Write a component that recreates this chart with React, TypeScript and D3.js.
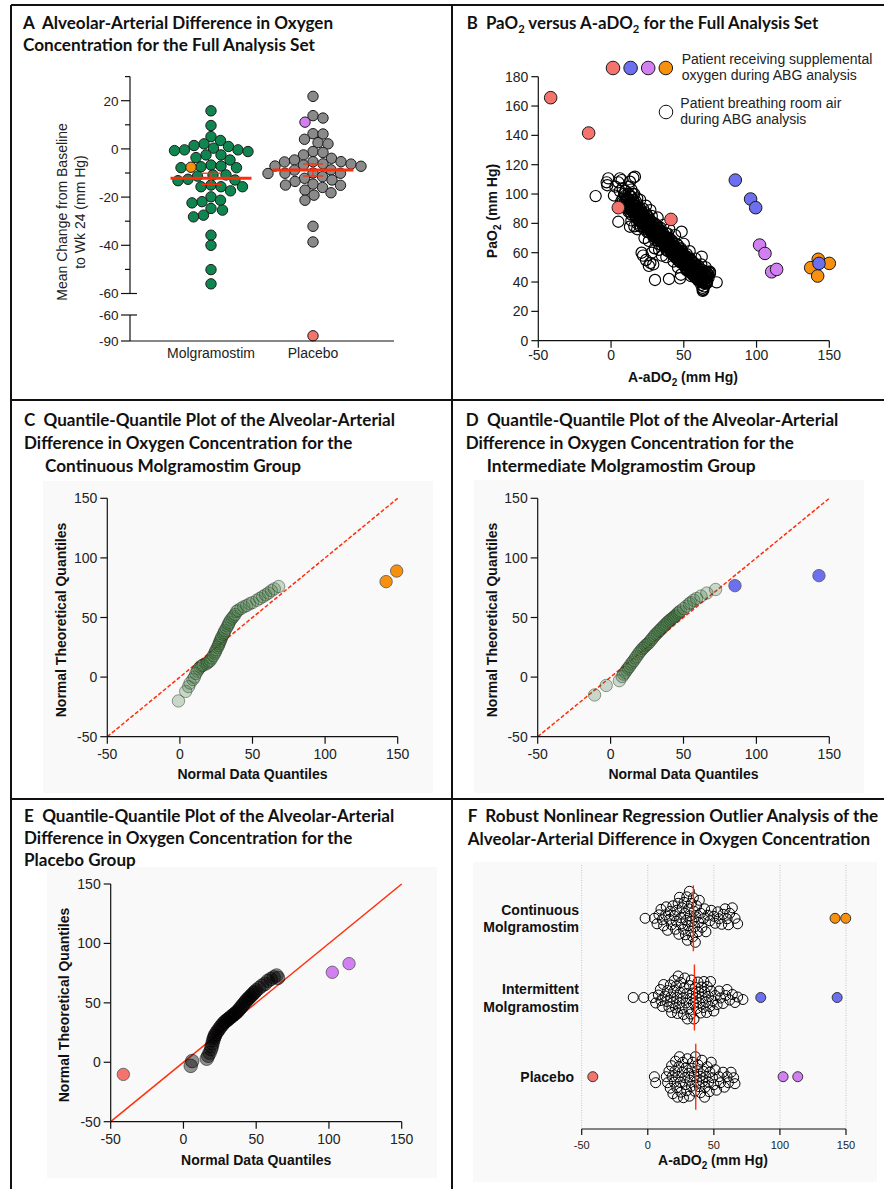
import React from "react";
import * as d3 from "d3";

// ---------------- DATA ----------------
// Panel A: mean change from baseline to week 24 (mm Hg)
const A_categories = ["Molgramostim", "Placebo"];
const A_molgramostim = [15.8, 9.7, 5.1, 3.5, 2.1, 1.4, 1.0, 0.3, -0.4, -0.4, -0.7, -1.1, -2.5, -2.5, -3.6, -4.6, -6.7, -7.1, -7.4, -7.8, -7.8, -10.8, -10.8, -11.3, -12.6, -12.9, -13.2, -15.0, -15.7, -15.7, -15.7, -17.4, -19.9, -21.3, -21.9, -22.4, -24.7, -25.4, -27.5, -28.2, -35.8, -40.0, -50.1, -56.0];
const A_molgramostimSupp = [-7.6];
const A_placebo = [21.8, 13.8, 12.8, 6.3, 6.2, 4.0, 2.6, 2.1, -1.1, -1.5, -2.5, -3.9, -4.6, -5.3, -5.3, -5.4, -6.2, -6.3, -6.7, -7.1, -7.2, -8.7, -8.8, -10.0, -10.1, -10.1, -10.2, -11.5, -12.2, -12.9, -13.5, -14.6, -15.0, -15.1, -16.0, -17.1, -18.2, -19.2, -21.3, -32.1, -38.6];
const A_placeboSuppViolet = [11.1];
const A_placeboSuppRed = [-84];
const A_means = [-12.2, -8.75];
const A_errLow = [-14.7, -11.25];
const A_errHigh = [-10.1, -6.25];
const A_upperTicks = [20, 0, -20, -40, -60];
const A_minorTicks = [30, 10, -10, -30, -50];
const A_lowerTicks = [-60, -90];

// Panel B: [A-aDO2, PaO2], patients on room air
const B_roomAir: [number, number][] = [
  [-10.6, 98.6], [-1.9, 110.7], [-2.6, 106], [-3, 108], [6.1, 110.7], [7.3, 109.5], [13, 108.4], [15.3, 111.1], [16.4, 111.8], [5, 81.1], [13, 77.7],
  [3, 105], [5, 108], [6, 102], [2, 99], [7, 95], [8, 104], [10, 102], [12, 105], [14, 103], [9, 100], [13, 99], [11, 97], [16, 100], [18, 97], [12, 100], [15, 100], [20, 96], [24, 92], [27, 89],
  [8, 97], [9, 94], [10, 99], [11, 92], [12, 96], [10, 95], [13, 90], [14, 98], [12, 88], [15, 93],
  [16, 89], [17, 95], [18, 86], [19, 91], [20, 84], [16, 92], [18, 90], [20, 88], [17, 84], [19, 82], [21, 86], [22, 90], [21, 80], [14, 86], [16, 78], [14, 82], [18, 76],
  [23, 83], [24, 87], [25, 79], [26, 84], [27, 77], [28, 81], [22, 78], [24, 82], [26, 76], [28, 85], [25, 74], [27, 80], [23, 76], [29, 78], [26, 80], [24, 79], [20, 78], [18, 80],
  [30, 75], [31, 79], [32, 72], [33, 76], [34, 70], [35, 74], [30, 71], [32, 78], [33, 69], [34, 77], [35, 68], [31, 73], [29, 73], [32, 75], [30, 80], [34, 73], [36, 71], [33, 72], [32, 84], [36, 79],
  [37, 68], [38, 73], [39, 66], [40, 70], [41, 64], [42, 68], [36, 66], [38, 64], [40, 67], [42, 63], [37, 71], [39, 70], [41, 69], [38, 68], [40, 62], [39, 73], [43, 65], [40, 76], [44, 72],
  [44, 61], [45, 66], [46, 59], [47, 63], [48, 57], [49, 61], [50, 56], [44, 64], [46, 62], [48, 60], [45, 58], [47, 56], [43, 60], [49, 58], [50, 53], [46, 65], [48, 63], [50, 66],
  [51, 55], [52, 59], [53, 52], [54, 56], [55, 50], [56, 54], [57, 48], [58, 52], [52, 54], [54, 51], [56, 49], [53, 57], [55, 55], [57, 53], [51, 58], [58, 47], [54, 61], [58, 56],
  [59, 50], [60, 46], [61, 49], [62, 45], [63, 48], [64, 44], [65, 47], [66, 43], [60, 51], [62, 42], [64, 40], [63, 36], [62, 38], [61, 44], [59, 45], [62, 52], [65, 50], [68, 46], [66, 40],
  [63, 35], [64, 37], [65, 42], [66, 44], [67, 47], [64, 46], [63, 34],
  [21, 60], [22, 58], [24, 55], [27, 53], [26, 51], [29, 52], [23, 70], [26, 68], [30, 63], [28, 60], [33, 62], [35, 58], [38, 57], [43, 54], [46, 50], [52, 48], [48, 45], [55, 44], [58, 43], [60, 41],
  [30.2, 41.4], [39.8, 42.1], [47.4, 42.5], [48.5, 74.3], [62.3, 57.3], [72.6, 39.8], [63.4, 34.6], [65.7, 39.1], [68, 47],
];
const B_roomAirCore: [number, number][] = [
  [10, 93], [10, 96], [10, 91], [11, 95], [11, 90], [12, 93], [12, 91], [13, 94], [13, 88], [13, 92], [14, 91], [14, 89], [14, 95], [15, 88], [15, 90], [15, 96],
  [16, 86], [16, 94], [17, 89], [17, 87], [17, 92], [18, 88], [18, 84], [18, 93], [19, 86], [19, 88], [19, 84], [20, 86], [20, 82], [20, 90], [21, 83], [21, 88], [21, 85],
  [22, 84], [22, 82], [22, 87], [22, 80], [23, 85], [23, 80], [23, 79], [24, 84], [24, 80], [24, 77], [25, 82], [25, 77], [25, 81], [25, 85], [26, 78], [26, 82], [26, 74],
  [27, 79], [27, 75], [27, 82], [28, 78], [28, 75], [28, 73], [29, 76], [29, 80], [29, 71], [30, 77], [30, 73], [30, 69], [31, 76], [31, 71], [31, 75], [32, 74], [32, 70], [32, 68],
  [33, 74], [33, 71], [33, 66], [34, 72], [34, 68], [34, 75], [35, 72], [35, 70], [35, 65], [36, 69], [36, 73], [36, 67], [37, 70], [37, 66], [37, 64], [38, 66], [38, 70], [38, 62],
  [39, 68], [39, 64], [39, 61], [40, 65], [40, 63], [40, 68], [41, 66], [41, 61], [41, 63], [42, 65], [42, 61], [42, 59], [43, 63], [43, 62], [43, 58], [44, 62], [44, 59], [44, 57],
  [45, 60], [45, 63], [45, 56], [46, 57], [46, 61], [46, 55], [47, 59], [47, 61], [47, 54], [48, 58], [48, 55], [48, 53], [49, 56], [49, 54], [49, 59], [50, 58], [50, 55], [50, 52],
  [51, 53], [51, 56], [51, 50], [52, 56], [52, 51], [52, 49], [53, 54], [53, 50], [53, 48], [54, 53], [54, 49], [54, 47], [55, 52], [55, 48], [55, 46], [56, 51], [56, 47], [56, 45],
  [57, 50], [57, 46], [57, 44], [58, 49], [58, 45], [58, 51], [59, 48], [59, 47], [59, 43], [60, 48], [60, 44], [60, 42], [61, 46], [61, 42], [61, 47], [62, 47], [62, 44], [62, 40],
  [63, 45], [63, 41], [63, 43], [64, 42], [64, 39], [65, 44], [65, 39], [65, 45], [66, 41], [66, 46], [67, 43], [67, 45],
];
const B_suppRed: [number, number][] = [[-41.5, 165.7], [-15.4, 141.6], [5.0, 90.7], [41.2, 82.7]];
const B_suppViolet: [number, number][] = [[102.1, 65.2], [105.8, 59.5], [110.4, 47.0], [113.8, 48.6]];
const B_suppOrange: [number, number][] = [[142.4, 55.5], [137.2, 49.8], [150, 52.7], [142, 44.1]];
const B_suppBlue: [number, number][] = [[85.4, 109.5], [95.9, 96.6], [99.4, 90.7], [142.9, 52.7]];
const B_xTicks = [-50, 0, 50, 100, 150];
const B_yTicks = [0, 20, 40, 60, 80, 100, 120, 140, 160, 180];

// Panel C: continuous molgramostim (data quantile, theoretical quantile)
const C_data = [-1, 4, 6, 7, 9, 10, 11, 12, 13, 14, 15, 16, 18, 19, 20, 21, 22, 23, 24, 24.5, 25, 26, 26.5, 27, 27.5, 28, 28.5, 29, 30, 30.5, 31, 32, 33, 33.5, 34, 35, 36, 37, 38, 39, 40, 42, 44, 46, 48, 50, 53, 55, 57, 59, 61, 63, 65, 68];
const C_theo = [-20, -12, -8, -5, -2, 0, 3, 5, 7, 8.5, 9.5, 10, 11, 12, 13, 14, 16, 18, 20, 21.5, 23, 25, 26.5, 28, 29.5, 31, 32.5, 34, 36, 37.5, 39, 41, 43, 44.5, 46, 48, 49.5, 51, 52.5, 55, 56, 57.5, 59, 60, 61.5, 62.5, 64.5, 66, 67.5, 69, 70.5, 72.5, 74, 76];
const C_outliers: [number, number][] = [[142, 80.1], [149.3, 89]];

// Panel D: intermittent molgramostim
const D_data = [-11, -3, 6, 8, 9, 10, 11, 12, 13, 14, 15, 16, 17, 18, 19, 20, 21, 22, 23, 24, 25, 26, 27, 28, 29, 30, 31, 32, 33, 34, 35, 36, 37, 38, 39, 40, 41, 42, 43, 44, 45, 46, 47, 48, 50, 52, 54, 55, 57, 59, 62, 66, 72];
const D_theo = [-15, -7, -3, 0.5, 2.5, 4, 6, 7.5, 9, 11, 12.5, 14, 16, 17.5, 19.5, 21, 22.5, 24, 25, 26.5, 27.5, 28.5, 30, 31.5, 33, 34.5, 36, 37, 38.5, 39.5, 41, 42, 43.5, 44.5, 46, 47, 48, 49, 50, 51, 52, 53.5, 54.5, 55.5, 57.5, 59.5, 61.5, 62.5, 64.5, 66, 68, 70.5, 73.5];
const D_outliers: [number, number][] = [[85.3, 76.7], [142.9, 85.1]];

// Panel E: placebo
const E_data = [5, 6, 16, 17, 18, 19, 19.5, 20, 20.5, 21, 21.5, 22, 23, 24, 25, 26, 27, 28, 29, 30, 31, 32, 33, 34, 35, 36, 37, 38, 39, 40, 41, 42, 43, 44, 45, 46, 47, 48, 49, 50, 52, 54, 56, 58, 60, 62, 64, 65];
const E_theo = [-3, 1, 3, 5.5, 8, 11, 13.5, 16, 18.5, 20.5, 22, 23.5, 25.5, 27, 29, 30.5, 32, 33.5, 34.5, 35.5, 36.5, 37.5, 38.5, 39.5, 40.5, 41.5, 42.5, 44, 45.5, 47, 48.5, 50, 51.5, 53, 54, 55.5, 56.5, 58, 59, 60.5, 62.5, 64.5, 66, 68.5, 70, 71.5, 73, 71];
const E_outliersRed: [number, number][] = [[-41.3, -10.2]];
const E_outliersViolet: [number, number][] = [[102.3, 75.7], [113.8, 83]];
const QQ_ticks = [-50, 0, 50, 100, 150];

// Panel F: A-aDO2 by group
const F_groups = ["Continuous Molgramostim", "Intermittent Molgramostim", "Placebo"];
const F_continuous = [-2, 5, 7, 8.5, 10, 11, 12, 13.5, 14, 15, 16.5, 17, 18, 19, 20, 21, 21.5, 22, 23, 23.5, 24, 25, 25.5, 26, 27, 27.5, 28, 28.5, 29, 29.5, 30, 30.5, 31, 31.5, 32, 32.5, 33, 33.5, 34, 34.5, 35, 35.5, 36, 36.5, 37, 38, 38.5, 39, 40, 41, 42, 43, 44, 45.5, 47, 48, 50, 51, 53, 54, 56, 57, 58.5, 60, 61, 62, 64, 66, 68];
const F_continuousOrange = [141.7, 149.8];
const F_intermittent = [-11, -3, 4, 6, 8, 9.5, 10, 11, 12, 13, 14.5, 15, 16, 17, 17.5, 18, 19, 19.5, 20, 21, 21.5, 22, 22.5, 23, 24, 24.5, 25, 26, 26.5, 27, 27.5, 28, 29, 29.5, 30, 31, 31.5, 32, 32.5, 33, 34, 34.5, 35, 36, 36.5, 37, 38, 38.5, 39, 40, 40.5, 41, 42, 42.5, 43, 44, 44.5, 45, 46, 47, 47.5, 48, 49, 50, 51, 52.5, 54, 55, 57, 59, 60, 62, 64, 66, 68, 72];
const F_intermittentBlue = [85.5, 143.3];
const F_placebo = [5, 6, 14, 15, 16, 17, 18, 18.5, 19, 20, 20.5, 21, 22, 22.5, 23, 23.5, 24, 24.5, 25, 26, 26.5, 27, 28, 28.5, 29, 29.5, 30, 31, 31.5, 32, 33, 33.5, 34, 35, 35.5, 36, 37, 37.5, 38, 39, 39.5, 40, 41, 41.5, 42, 43, 43.5, 44, 45, 46, 46.5, 47, 48, 49, 50, 51, 52, 54, 55, 57, 58, 60, 61, 63, 65, 66];
const F_placeboRed = [-41.6];
const F_placeboViolet = [102.4, 113.5];
const F_medians = [34.5, 35.3, 36.3];
const F_ticks = [-50, 0, 50, 100, 150];

// ---------------- STYLE ----------------
const FONT = "'Liberation Sans', Arial, sans-serif";
const TFONT = "Lato, 'Open Sans', sans-serif";
const GREEN = "#0f8550";
const GREY = "#8a8a8a";
const ORANGE = "#f7900c";
const VIOLET = "#d27ff2";
const SALMON = "#f5736d";
const BLUE = "#6b6ff0";
const RED = "#ff2e0a";
const BG = "#f9f9f9";

type Item = { v: number; c: string };
type Placed = Item & { p: number; o: number };

function swarm(items: Item[], pos: (v: number) => number, D: number, step = 0.5): Placed[] {
  const sorted = items.map((d) => ({ ...d, p: pos(d.v), o: 0 })).sort((a, b) => a.p - b.p);
  const placed: Placed[] = [];
  for (const d of sorted) {
    let off = 0;
    for (let k = 0; k < 2000; k++) {
      const cand = k === 0 ? 0 : (k % 2 === 1 ? 1 : -1) * Math.ceil(k / 2) * step;
      let ok = true;
      for (const q of placed) {
        const dp = q.p - d.p;
        if (Math.abs(dp) >= D) continue;
        const dd = q.o - cand;
        if (dp * dp + dd * dd < D * D - 1e-6) { ok = false; break; }
      }
      if (ok) { off = cand; break; }
    }
    placed.push({ ...d, o: off });
  }
  return placed;
}

function TitleLine({ x, y, w, children }: { x: number; y: number; w: number; children: React.ReactNode }) {
  return (
    <text x={x} y={y} textLength={w} lengthAdjust="spacingAndGlyphs" fontFamily={TFONT} fontWeight={700} fontSize={16.5} fill="#111" style={{ whiteSpace: "pre" }}>
      {children}
    </text>
  );
}

function PanelA() {
  const x = d3.scalePoint<string>().domain(A_categories).range([130, 394]).padding(0.794);
  const yU = d3.scaleLinear().domain([-60, 30]).range([293.5, 76.6]);
  const yL = d3.scaleLinear().domain([-90, -60]).range([341, 315]);
  const r = 5.2;
  const groups = [
    { cat: A_categories[0], items: [...A_molgramostim.map((v) => ({ v, c: GREEN })), ...A_molgramostimSupp.map((v) => ({ v, c: ORANGE }))] },
    { cat: A_categories[1], items: [...A_placebo.map((v) => ({ v, c: GREY })), ...A_placeboSuppViolet.map((v) => ({ v, c: VIOLET }))] },
  ];
  const ax = 130;
  return (
    <g>
      <TitleLine x={23} y={29.3} w={310}>{"A\u00a0 Alveolar-Arterial Difference in Oxygen"}</TitleLine>
      <TitleLine x={23} y={51} w={292}>Concentration for the Full Analysis Set</TitleLine>
      {groups.map((g) => {
        const placed = swarm(g.items, (v) => yU(v), 10);
        const ordered = [...placed].sort((a, b) => (a.c === GREEN || a.c === GREY ? 0 : 1) - (b.c === GREEN || b.c === GREY ? 0 : 1));
        return (
          <g key={g.cat}>
            {ordered.map((d, i) => (
              <circle key={i} cx={(x(g.cat) as number) + d.o} cy={d.p} r={r} fill={d.c} stroke="#1b1b1b" strokeWidth={1} />
            ))}
          </g>
        );
      })}
      {A_placeboSuppRed.map((v, i) => (
        <circle key={i} cx={x(A_categories[1]) as number} cy={yL(v)} r={r} fill={SALMON} stroke="#1b1b1b" strokeWidth={1} />
      ))}
      {A_categories.map((c, i) => {
        const cx = x(c) as number;
        return (
          <g key={c} stroke={RED}>
            <line x1={cx - 40.5} x2={cx + 40.5} y1={yU(A_means[i])} y2={yU(A_means[i])} strokeWidth={3} />
            <line x1={cx} x2={cx} y1={yU(A_errLow[i])} y2={yU(A_errHigh[i])} strokeWidth={1.3} />
            <line x1={cx - 10} x2={cx + 10} y1={yU(A_errLow[i])} y2={yU(A_errLow[i])} strokeWidth={1.3} />
            <line x1={cx - 10} x2={cx + 10} y1={yU(A_errHigh[i])} y2={yU(A_errHigh[i])} strokeWidth={1.3} />
          </g>
        );
      })}
      <g stroke="#111" strokeWidth={1.2}>
        <line x1={ax} x2={ax} y1={yU(30)} y2={yU(-60)} />
        <line x1={ax} x2={ax} y1={yL(-60)} y2={yL(-90)} />
        <line x1={ax} x2={394} y1={yL(-90)} y2={yL(-90)} />
        {A_upperTicks.map((t) => (
          <line key={t} x1={ax - 9} x2={t === -60 ? ax + 7 : ax} y1={yU(t)} y2={yU(t)} />
        ))}
        {A_minorTicks.map((t) => (
          <line key={t} x1={ax - 5} x2={ax} y1={yU(t)} y2={yU(t)} />
        ))}
        {A_lowerTicks.map((t) => (
          <line key={t} x1={ax - 9} x2={t === -60 ? ax + 7 : ax} y1={yL(t)} y2={yL(t)} />
        ))}
      </g>
      <g fontFamily={FONT} fontSize={13.5} fill="#222" textAnchor="end">
        {A_upperTicks.map((t) => (
          <text key={t} x={ax - 11.5} y={yU(t) + 4.8}>{t}</text>
        ))}
        {A_lowerTicks.map((t) => (
          <text key={t} x={ax - 11.5} y={yL(t) + 4.8}>{t}</text>
        ))}
      </g>
      <g fontFamily={FONT} fontSize={14} fill="#222" textAnchor="middle">
        {A_categories.map((c) => (
          <text key={c} x={x(c) as number} y={358}>{c}</text>
        ))}
        <text transform="translate(66.5,212) rotate(-90)">Mean Change from Baseline</text>
        <text transform="translate(84.5,212) rotate(-90)">to Wk 24 (mm Hg)</text>
      </g>
    </g>
  );
}

function PanelB() {
  const x = d3.scaleLinear().domain([-50, 150]).range([538.3, 829.3]);
  const y = d3.scaleLinear().domain([0, 180]).range([340.7, 76.7]);
  const colored: [string, [number, number][]][] = [
    [SALMON, B_suppRed], [VIOLET, B_suppViolet], [ORANGE, B_suppOrange], [BLUE, B_suppBlue],
  ];
  const room = [...B_roomAir, ...B_roomAirCore];
  return (
    <g>
      <TitleLine x={466.7} y={29.3} w={351.6}>
        {"B\u00a0 PaO"}<tspan fontSize={11} dy={4}>2</tspan><tspan dy={-4}>{" versus A-aDO"}</tspan><tspan fontSize={11} dy={4}>2</tspan><tspan dy={-4}>{" for the Full Analysis Set"}</tspan>
      </TitleLine>
      {room.map((d, i) => (
        <circle key={i} cx={x(d[0])} cy={y(d[1])} r={5.6} fill="none" stroke="#000" strokeWidth={1.15} />
      ))}
      {colored.map(([c, pts]) =>
        pts.map((d, i) => <circle key={c + i} cx={x(d[0])} cy={y(d[1])} r={6.3} fill={c} stroke="#1b1b1b" strokeWidth={1} />)
      )}
      {[SALMON, BLUE, VIOLET, ORANGE].map((c, i) => (
        <circle key={c} cx={613 + i * 17.6} cy={68} r={6.8} fill={c} stroke="#1b1b1b" strokeWidth={1} />
      ))}
      <circle cx={666} cy={112} r={6.8} fill="#fff" stroke="#111" strokeWidth={1} />
      <g fontFamily={FONT} fontSize={14} fill="#222">
        <text x={681.7} y={64.3}>Patient receiving supplemental</text>
        <text x={681.7} y={80}>oxygen during ABG analysis</text>
        <text x={680.3} y={108.3}>Patient breathing room air</text>
        <text x={680.3} y={124}>during ABG analysis</text>
      </g>
      <g stroke="#111" strokeWidth={1.2}>
        <line x1={x(-50)} x2={x(-50)} y1={y(180)} y2={y(0)} />
        <line x1={x(-50)} x2={x(150)} y1={y(0)} y2={y(0)} />
        {B_yTicks.map((t) => <line key={t} x1={x(-50) - 7} x2={x(-50)} y1={y(t)} y2={y(t)} />)}
        {B_xTicks.map((t) => <line key={t} x1={x(t)} x2={x(t)} y1={y(0)} y2={y(0) + 7} />)}
      </g>
      <g fontFamily={FONT} fontSize={14} fill="#222">
        {B_yTicks.map((t) => <text key={t} x={x(-50) - 10} y={y(t) + 5} textAnchor="end">{t}</text>)}
        {B_xTicks.map((t) => <text key={t} x={x(t)} y={360} textAnchor="middle">{t}</text>)}
      </g>
      <g fontFamily={FONT} fontSize={14} fontWeight={700} fill="#111" textAnchor="middle">
        <text x={683} y={382}>A-aDO<tspan fontSize={10} dy={3.5}>2</tspan><tspan dy={-3.5}> (mm Hg)</tspan></text>
        <text transform="translate(497,211) rotate(-90)">PaO<tspan fontSize={10} dy={3.5}>2</tspan><tspan dy={-3.5}> (mm Hg)</tspan></text>
      </g>
    </g>
  );
}

type QQProps = {
  xr: [number, number]; yr: [number, number];
  data: number[]; theo: number[];
  fill: string; fillOpacity: number; stroke: string; strokeOpacity: number;
  outliers: { pts: [number, number][]; c: string }[];
  dashed: boolean; r: number;
  yLabelX: number; yLabelY: number; xLabelY: number; tickLabelY: number;
  bg: [number, number, number, number];
};

function QQPanel(p: QQProps) {
  const x = d3.scaleLinear().domain([-50, 150]).range(p.xr);
  const y = d3.scaleLinear().domain([-50, 150]).range(p.yr);
  const xl = (p.xr[0] + p.xr[1]) / 2;
  return (
    <g>
      <rect x={p.bg[0]} y={p.bg[1]} width={p.bg[2]} height={p.bg[3]} fill={BG} />
      <line x1={x(-50)} y1={y(-50)} x2={x(150)} y2={y(150)} stroke={RED} strokeWidth={1.5} strokeDasharray={p.dashed ? "4 2" : undefined} />
      {p.data.map((d, i) => (
        <circle key={i} cx={x(d)} cy={y(p.theo[i])} r={p.r} fill={p.fill} fillOpacity={p.fillOpacity} stroke={p.stroke} strokeOpacity={p.strokeOpacity} strokeWidth={1} />
      ))}
      {p.outliers.map((o) =>
        o.pts.map((d, i) => <circle key={o.c + i} cx={x(d[0])} cy={y(d[1])} r={6.2} fill={o.c} stroke="#555" strokeWidth={0.8} />)
      )}
      <g stroke="#111" strokeWidth={1.2}>
        <line x1={x(-50)} x2={x(-50)} y1={y(150)} y2={y(-50)} />
        <line x1={x(-50)} x2={x(150)} y1={y(-50)} y2={y(-50)} />
        {QQ_ticks.map((t) => <line key={"y" + t} x1={x(-50) - 7} x2={x(-50)} y1={y(t)} y2={y(t)} />)}
        {QQ_ticks.map((t) => <line key={"x" + t} x1={x(t)} x2={x(t)} y1={y(-50)} y2={y(-50) + 7} />)}
      </g>
      <g fontFamily={FONT} fontSize={14} fill="#222">
        {QQ_ticks.map((t) => <text key={"y" + t} x={x(-50) - 10} y={y(t) + 5} textAnchor="end">{t}</text>)}
        {QQ_ticks.map((t) => <text key={"x" + t} x={x(t)} y={p.tickLabelY} textAnchor="middle">{t}</text>)}
      </g>
      <g fontFamily={FONT} fontSize={14} fontWeight={700} fill="#111" textAnchor="middle">
        <text x={xl} y={p.xLabelY}>Normal Data Quantiles</text>
        <text transform={`translate(${p.yLabelX},${p.yLabelY}) rotate(-90)`}>Normal Theoretical Quantiles</text>
      </g>
    </g>
  );
}

function PanelF() {
  const x = d3.scaleLinear().domain([-50, 150]).range([581.7, 846]);
  const y = d3.scalePoint<string>().domain(F_groups).range([918.3, 1076.7]);
  const rows: Item[][] = [
    [...F_continuous.map((v) => ({ v, c: "none" })), ...F_continuousOrange.map((v) => ({ v, c: ORANGE }))],
    [...F_intermittent.map((v) => ({ v, c: "none" })), ...F_intermittentBlue.map((v) => ({ v, c: BLUE }))],
    [...F_placebo.map((v) => ({ v, c: "none" })), ...F_placeboRed.map((v) => ({ v, c: SALMON })), ...F_placeboViolet.map((v) => ({ v, c: VIOLET }))],
  ];
  const labels = [["Continuous", "Molgramostim"], ["Intermittent", "Molgramostim"], ["Placebo"]];
  return (
    <g>
      <rect x={473} y={862} width={404} height={320} fill={BG} />
      <TitleLine x={467.7} y={822.3} w={410.6}>{"F\u00a0 Robust Nonlinear Regression Outlier Analysis of the"}</TitleLine>
      <TitleLine x={467.7} y={845} w={402.3}>Alveolar-Arterial Difference in Oxygen Concentration</TitleLine>
      {F_ticks.map((t) => (
        <line key={t} x1={x(t)} x2={x(t)} y1={865} y2={1129} stroke="#b5b5b5" strokeWidth={0.8} strokeDasharray="1 1.5" />
      ))}
      {rows.map((items, gi) => {
        const cy = y(F_groups[gi]) as number;
        const placed = swarm(items, (v) => x(v), 5.8, 0.5);
        const ordered = [...placed].sort((a, b) => (a.c === "none" ? 0 : 1) - (b.c === "none" ? 0 : 1));
        return (
          <g key={gi}>
            {ordered.map((d, i) => (
              <circle key={i} cx={d.p} cy={cy + d.o} r={5} fill={d.c} stroke={d.c === "none" ? "#000" : "#333"} strokeWidth={1} />
            ))}
            <line x1={x(F_medians[gi])} x2={x(F_medians[gi])} y1={cy - 33} y2={cy + 33} stroke={RED} strokeWidth={1.4} />
          </g>
        );
      })}
      <g fontFamily={FONT} fontSize={14} fontWeight={700} fill="#111" textAnchor="end">
        {labels.map((ls, gi) => {
          const cy = y(F_groups[gi]) as number;
          if (ls.length === 1) return <text key={gi} x={574} y={cy + 5}>{ls[0]}</text>;
          return (
            <g key={gi}>
              <text x={579} y={cy - 3.3}>{ls[0]}</text>
              <text x={579} y={cy + 14}>{ls[1]}</text>
            </g>
          );
        })}
      </g>
      <g stroke="#111" strokeWidth={1.2}>
        <line x1={x(-50)} x2={x(150)} y1={1129} y2={1129} />
        {F_ticks.map((t) => <line key={t} x1={x(t)} x2={x(t)} y1={1129} y2={1135} />)}
      </g>
      <g fontFamily={FONT} fontSize={11} fill="#222" textAnchor="middle">
        {F_ticks.map((t) => <text key={t} x={x(t)} y={1149}>{t}</text>)}
      </g>
      <text x={713} y={1165} fontFamily={FONT} fontSize={14} fontWeight={700} fill="#111" textAnchor="middle">
        A-aDO<tspan fontSize={10} dy={3.5}>2</tspan><tspan dy={-3.5}> (mm Hg)</tspan>
      </text>
    </g>
  );
}

export default function App() {
  return (
    <svg width={884} height={1189} style={{ position: "absolute", left: 0, top: 0, background: "#fff" }}>
      <rect width={884} height={1189} fill="#fff" />
      <PanelA />
      <PanelB />
      <QQPanel
        xr={[107.3, 397.7]} yr={[736.7, 498.3]} data={C_data} theo={C_theo}
        fill="#2e6b2e" fillOpacity={0.24} stroke="#1f2f1f" strokeOpacity={0.45} r={6.2}
        outliers={[{ pts: C_outliers, c: ORANGE }]} dashed={true}
        yLabelX={65.5} yLabelY={620} xLabelY={779} tickLabelY={759} bg={[43, 481, 390, 312]}
      />
      <TitleLine x={24} y={426} w={371}>{"C\u00a0 Quantile-Quantile Plot of the Alveolar-Arterial"}</TitleLine>
      <TitleLine x={24} y={449} w={328.3}>Difference in Oxygen Concentration for the</TitleLine>
      <TitleLine x={45} y={471.7} w={256}>Continuous Molgramostim Group</TitleLine>
      <QQPanel
        xr={[537.7, 829.3]} yr={[736.7, 498.3]} data={D_data} theo={D_theo}
        fill="#2e6b2e" fillOpacity={0.24} stroke="#1f2f1f" strokeOpacity={0.45} r={6.2}
        outliers={[{ pts: D_outliers, c: BLUE }]} dashed={true}
        yLabelX={496.5} yLabelY={620} xLabelY={779} tickLabelY={759} bg={[474, 480, 390, 313]}
      />
      <TitleLine x={465.7} y={426} w={372.6}>{"D\u00a0 Quantile-Quantile Plot of the Alveolar-Arterial"}</TitleLine>
      <TitleLine x={465.7} y={449} w={328.3}>Difference in Oxygen Concentration for the</TitleLine>
      <TitleLine x={486.7} y={471.7} w={269}>Intermediate Molgramostim Group</TitleLine>
      <QQPanel
        xr={[110.7, 401.7]} yr={[1121.7, 884]} data={E_data} theo={E_theo}
        fill="#000" fillOpacity={0.42} stroke="#000" strokeOpacity={0.5} r={6.8}
        outliers={[{ pts: E_outliersRed, c: SALMON }, { pts: E_outliersViolet, c: VIOLET }]} dashed={false}
        yLabelX={69} yLabelY={1005} xLabelY={1165} tickLabelY={1144} bg={[47, 867, 390, 311]}
      />
      <TitleLine x={24} y={821.7} w={370.3}>{"E\u00a0 Quantile-Quantile Plot of the Alveolar-Arterial"}</TitleLine>
      <TitleLine x={24} y={844} w={328.3}>Difference in Oxygen Concentration for the</TitleLine>
      <TitleLine x={24} y={865.7} w={111.7}>Placebo Group</TitleLine>
      <PanelF />
      <g stroke="#111" strokeWidth={2}>
        <line x1={11} x2={884} y1={5} y2={5} />
        <line x1={11} x2={11} y1={5} y2={1189} />
        <line x1={452} x2={452} y1={5} y2={1189} />
        <line x1={11} x2={884} y1={400} y2={400} />
        <line x1={11} x2={884} y1={799} y2={799} />
      </g>
    </svg>
  );
}
